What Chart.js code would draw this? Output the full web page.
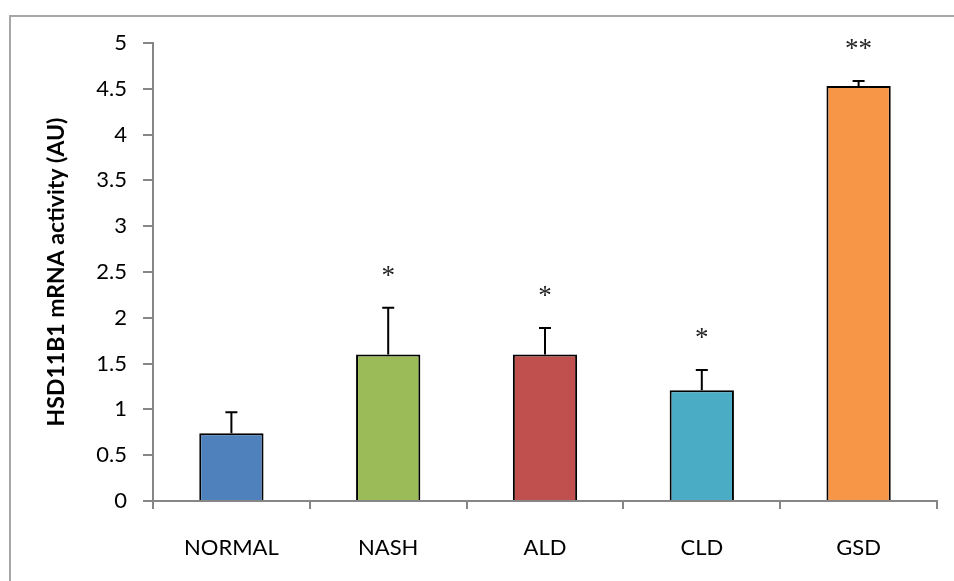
<!DOCTYPE html>
<html>
<head>
<meta charset="utf-8">
<script src="https://cdn.jsdelivr.net/npm/chart.js@4"></script>
<style>
  html, body { margin: 0; padding: 0; background: #fff; }
  #wrap { width: 954px; height: 581px; position: relative; }
</style>
</head>
<body>
<div id="wrap"><canvas id="myChart" width="954" height="581"></canvas></div>
<script>
const categories = ['NORMAL', 'NASH', 'ALD', 'CLD', 'GSD'];
const values = [0.74, 1.60, 1.60, 1.21, 4.53];
const errors = [0.23, 0.51, 0.29, 0.22, 0.055];
const marks = ['', '*', '*', '*', '**'];
const barColors = ['#4F81BD', '#9BBB59', '#C0504D', '#4BACC6', '#F79646'];
const yTicks = [0, 0.5, 1, 1.5, 2, 2.5, 3, 3.5, 4, 4.5, 5];

const axisGray = '#868686';
const font = 'Lato';

// frame around the whole plot, plus error bars and significance marks
const extras = {
    id: 'extras',
    beforeDraw(chart) {
        const ctx = chart.ctx;
        ctx.save();
        ctx.strokeStyle = '#a6a6a6';
        ctx.lineWidth = 2;
        ctx.strokeRect(10, 16, 1000, 1000);
        ctx.restore();
    },
    afterDatasetsDraw(chart) {
        const ctx = chart.ctx;
        const y = chart.scales.y;
        const meta = chart.getDatasetMeta(0);
        ctx.save();
        ctx.strokeStyle = '#000';
        ctx.lineWidth = 2;
        meta.data.forEach((bar, i) => {
            const top = y.getPixelForValue(values[i]);
            const errTop = y.getPixelForValue(values[i] + errors[i]);
            ctx.beginPath();
            ctx.moveTo(bar.x, top);
            ctx.lineTo(bar.x, errTop);
            ctx.moveTo(bar.x - 6, errTop);
            ctx.lineTo(bar.x + 6, errTop);
            ctx.stroke();
            if (marks[i]) {
                ctx.fillStyle = '#222';
                ctx.font = '27px "Liberation Serif"';
                ctx.textAlign = 'center';
                ctx.textBaseline = 'middle';
                ctx.fillText(marks[i], bar.x, errTop - 31);
            }
        });
        ctx.restore();
    }
};

const ctx = document.getElementById('myChart').getContext('2d');
new Chart(ctx, {
    type: 'bar',
    data: {
        labels: categories,
        datasets: [{
            data: values,
            backgroundColor: barColors,
            borderColor: '#000',
            borderWidth: 2,
            barPercentage: 0.41,
            categoryPercentage: 1
        }]
    },
    options: {
        responsive: false,
        animation: false,
        layout: { padding: { top: 43, right: 17, left: 36, bottom: 0 } },
        plugins: {
            legend: { display: false },
            tooltip: { enabled: false }
        },
        scales: {
            x: {
                grid: { drawOnChartArea: false, offset: true, color: axisGray, lineWidth: 2, tickLength: 8 },
                border: { color: axisGray, width: 2 },
                ticks: { color: '#000', font: { family: font, size: 22 }, padding: 26 },
                afterFit(scale) { scale.height = 80; }
            },
            y: {
                min: 0,
                max: 5,
                afterBuildTicks(scale) { scale.ticks = yTicks.map(v => ({ value: v })); },
                grid: { drawOnChartArea: false, color: axisGray, lineWidth: 2, tickLength: 10 },
                border: { color: axisGray, width: 2 },
                ticks: {
                    color: '#000',
                    font: { family: font, size: 22 },
                    padding: 16,
                    callback: v => String(v)
                },
                title: {
                    display: true,
                    text: 'HSD11B1 mRNA activity (AU)',
                    color: '#000',
                    font: { family: font, size: 23, weight: 'bold' },
                    padding: { top: 7, bottom: 0 }
                },
                afterFit(scale) { scale.width = 117; }
            }
        }
    },
    plugins: [extras]
});
</script>
</body>
</html>
